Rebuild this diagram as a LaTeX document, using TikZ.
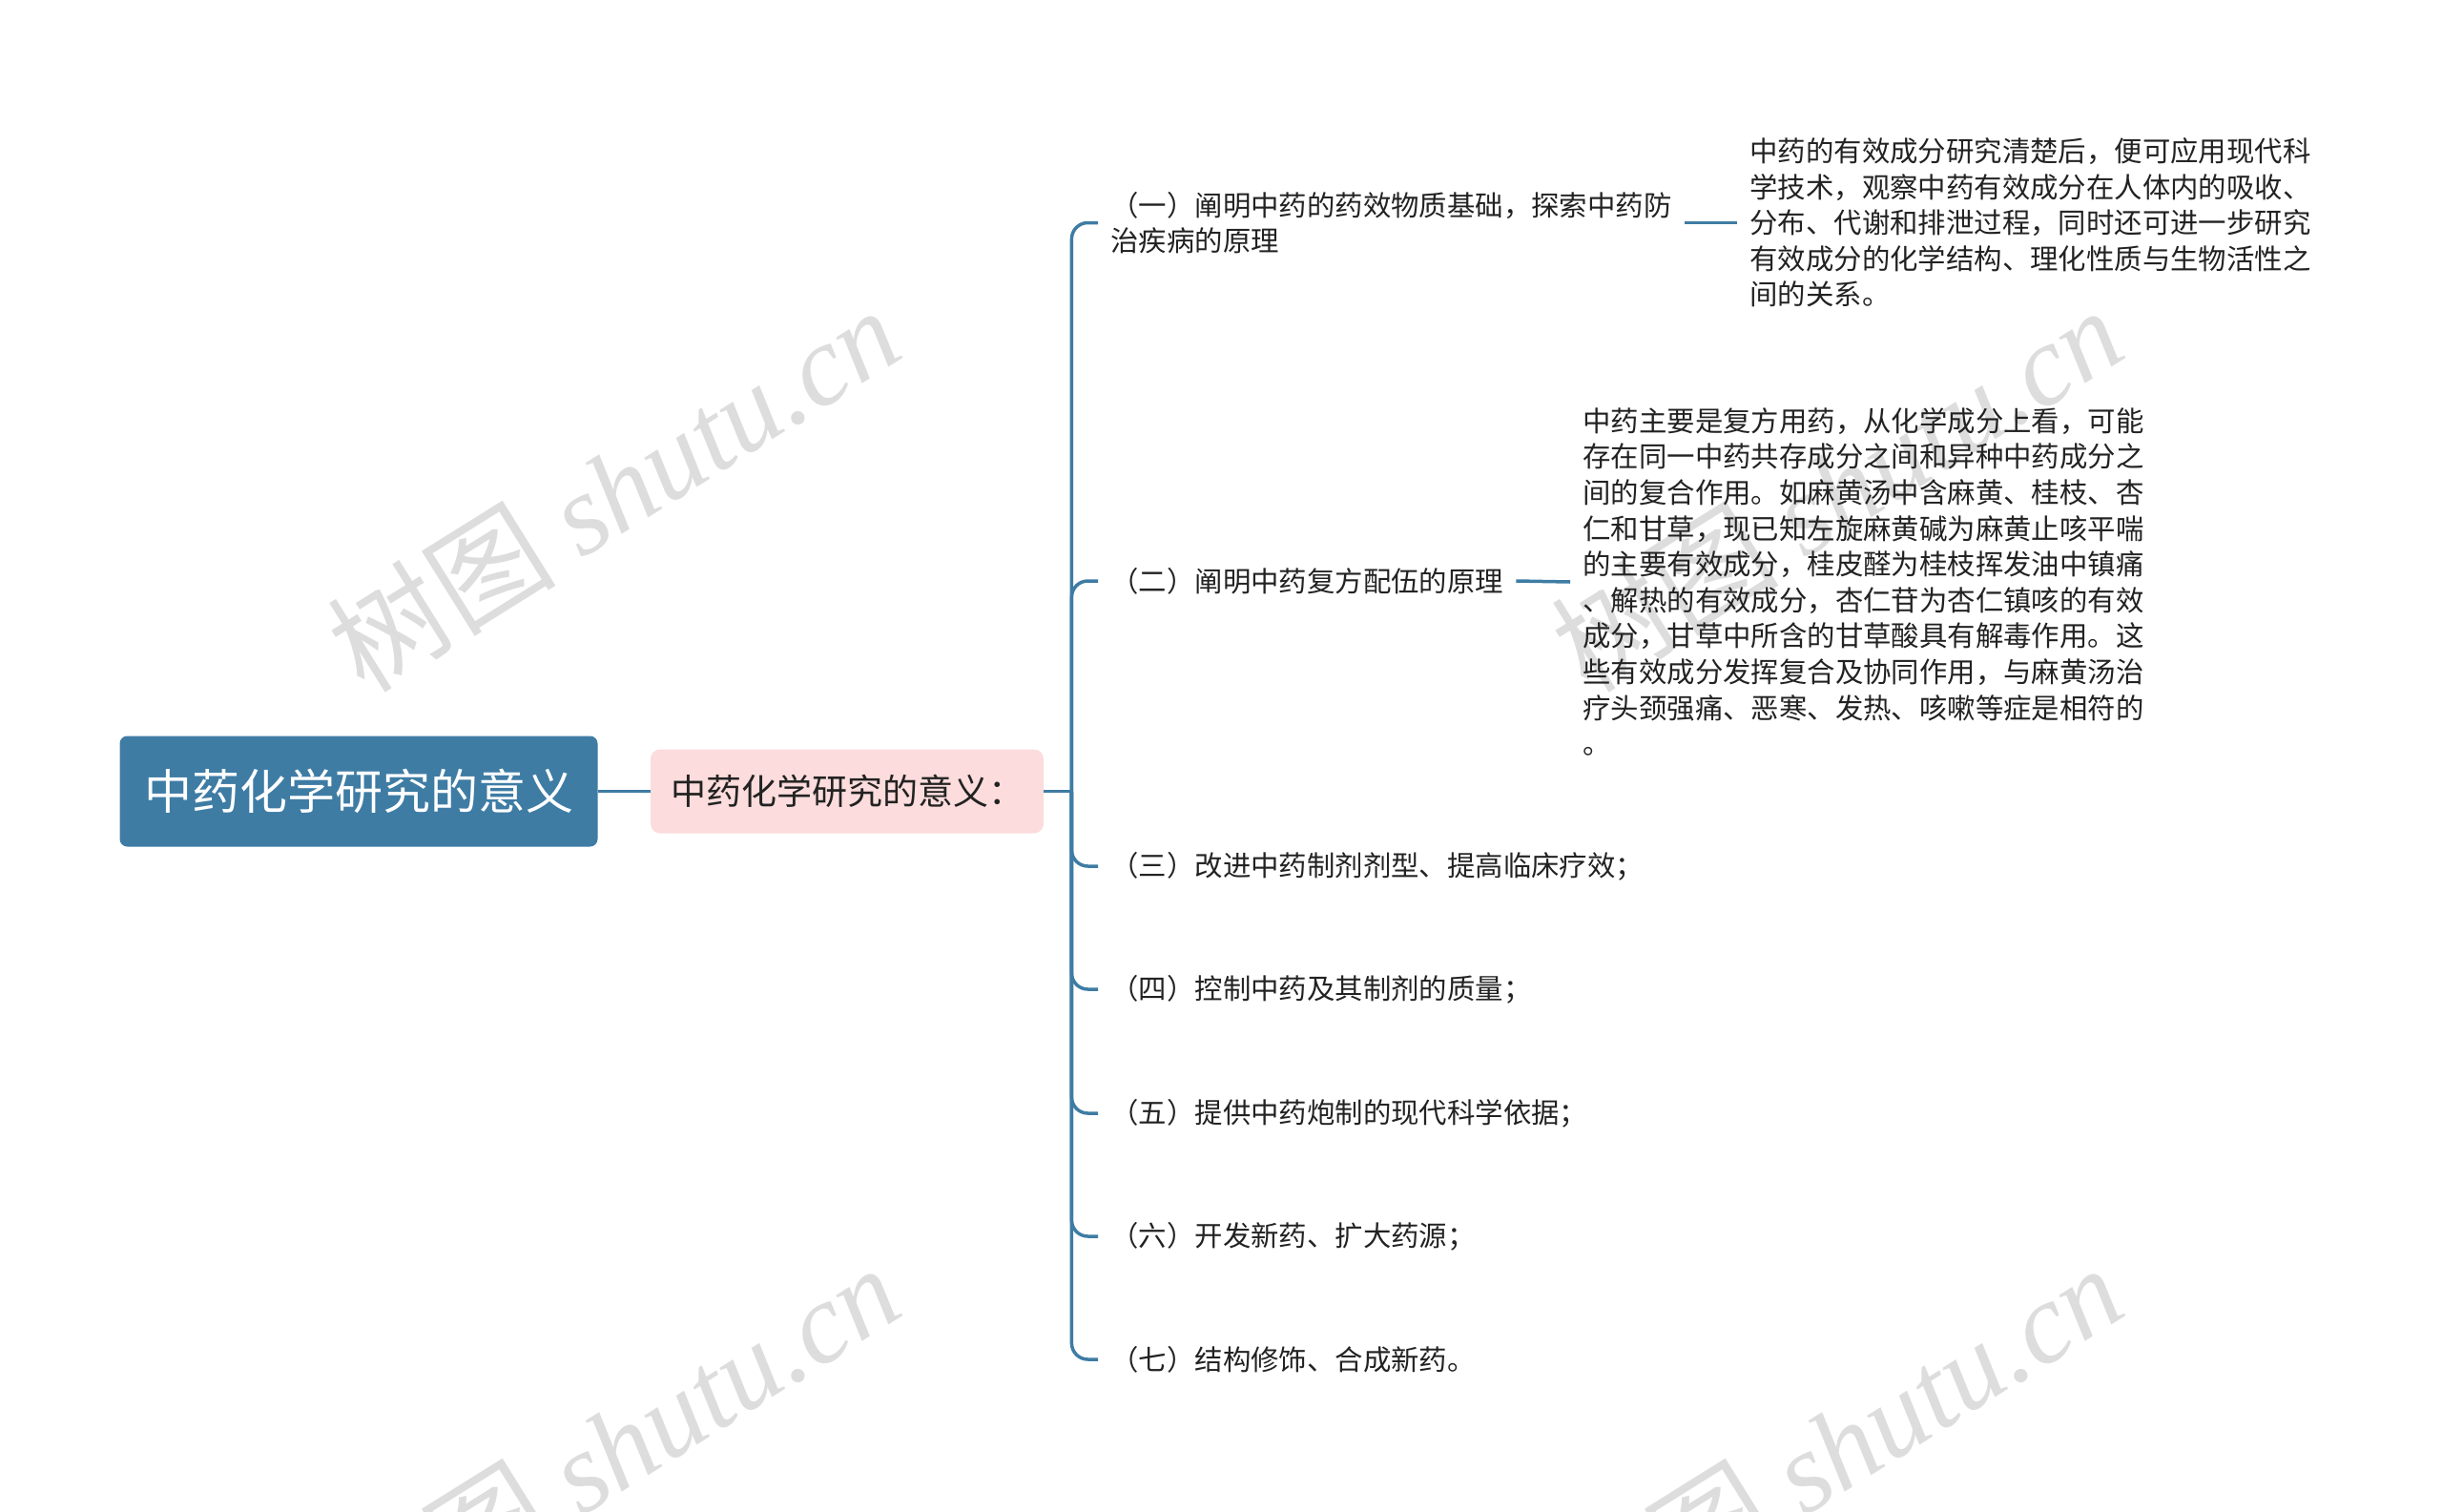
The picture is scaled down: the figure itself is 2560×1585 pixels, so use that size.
\documentclass[tikz,border=0pt]{standalone}
\usepackage{fontspec}
\setmainfont{Noto Sans CJK SC}
\newfontfamily\wmlatin{Liberation Serif}
\definecolor{branchblue}{RGB}{62,124,164}
\definecolor{subpink}{RGB}{252,220,220}
\definecolor{wmgray}{RGB}{221,221,221}
\definecolor{txt}{RGB}{34,34,34}
\tikzset{
  rootbox/.style={fill=branchblue, text=white, rounded corners=4pt,
    minimum width=250.5pt, minimum height=58pt, font=\fontsize{25}{30}\selectfont},
  subbox/.style={fill=subpink, text=txt, rounded corners=5pt,
    minimum width=206pt, minimum height=44pt, font=\fontsize{18.5}{22}\selectfont},
  item/.style={anchor=west, align=left, text=txt, inner xsep=6.5pt, inner ysep=0pt,
    font=\fontsize{14.7}{18.8}\selectfont},
  branch/.style={draw=branchblue, line width=1.75pt, rounded corners=8.5pt},
  watermark/.style={text=wmgray, rotate=32, inner sep=0pt, font=\fontsize{60}{64}\selectfont}
}
\begin{document}
\begin{tikzpicture}[x=0.5pt, y=-0.5pt]
\useasboundingbox (0,0) rectangle (2560,1585);
% watermarks
\foreach \wx/\wy [count=\i] in {643/512, 643/1516, 1925/512, 1925/1516}
  \node[watermark] (wm\i) at (\wx,\wy) {树图 {\wmlatin\itshape shutu.cn}};
% nodes
\node[rootbox] (root) at (376,829.5) {中药化学研究的意义};
\node[subbox] (sub) at (888,829.5) {中药化学研究的意义：};
\node[item] (c1) at (1151,233.5) {（一）阐明中药的药效物质基础，探索中药防\\治疾病的原理};
\node[item] (c2) at (1151,609) {（二）阐明中药复方配伍的原理};
\node[item] (c3) at (1151,908) {（三）改进中药制剂剂型、提高临床疗效；};
\node[item] (c4) at (1151,1037) {（四）控制中药及其制剂的质量；};
\node[item] (c5) at (1151,1167) {（五）提供中药炮制的现代科学依据；};
\node[item] (c6) at (1151,1296) {（六）开发新药、扩大药源；};
\node[item] (c7) at (1151,1425) {（七）结构修饰、合成新药。};
\node[item] (l1) at (1821,233.5) {中药的有效成分研究清楚后，便可应用现代科\\学技术，观察中药有效成分在人体内的吸收、\\分布、代谢和排泄过程，同时还可进一步研究\\有效成分的化学结构、理化性质与生物活性之\\间的关系。};
\node[item] (l2) at (1646,610) {中药主要是复方用药，从化学成分上看，可能\\存在同一中药共存成分之间和异种中药成分之\\间的复合作用。如麻黄汤中含麻黄、桂枝、杏\\仁和甘草，现已知左旋麻黄碱为麻黄止咳平喘\\的主要有效成分，桂皮醛为桂枝挥发油中镇痛\\、解热的有效成分，杏仁苷为杏仁镇咳的有效\\成分，甘草中所含的甘草酸具有解毒作用。这\\些有效成分发挥复合及协同作用，与麻黄汤治\\疗头颈强痛、恶寒、发热、咳嗽等症是相符的\\。};
% connectors
\coordinate (hub) at ([xshift=14.5pt]sub.east);
\draw[branch] (root.east) -- (sub.west);
\draw[branch] (sub.east) -- (hub);
\foreach \c in {c1,c2,c3,c4,c5,c6,c7}
  \draw[branch] (hub) |- (\c.west);
\draw[branch] (c1.east) -- (l1.west);
\draw[branch] (c2.east) -- (l2.west);
\end{tikzpicture}
\end{document}
